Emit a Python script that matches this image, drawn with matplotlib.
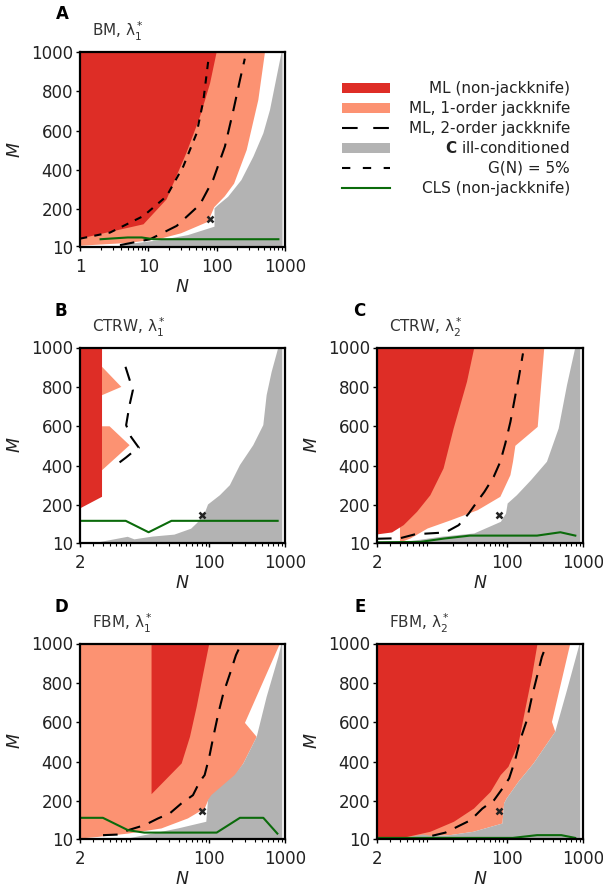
import numpy as np
import matplotlib
matplotlib.use("Agg")
import matplotlib.pyplot as plt
from matplotlib.ticker import NullFormatter
from matplotlib.patches import Rectangle

# ---------------- colours ----------------
RED = "#de2d26"
SALMON = "#fc9272"
GRAY = "#b3b3b3"
GREEN = "#0b6b0b"

# ---------------- common values ----------------
M_MIN, M_MAX = 10, 1000
GRID_NMAX = 920
Y_TICKS = [10, 200, 400, 600, 800, 1000]
X_TICKS_A = [1, 10, 100, 1000]
X_TICKS_BE = [2, 100, 1000]
MARK_N, MARK_M = 80, 150

# ---------------- panel A : BM, lambda1 ----------------
A_red_N = [1, 100, 80, 57, 36, 18.5, 8.5, 1]
A_red_M = [1000, 1000, 840, 670, 486, 250, 123, 50]
A_sal_N = [1, 510, 407, 275, 180, 131, 92, 75, 30, 14, 5, 1]
A_sal_M = [1000, 1000, 756, 501, 330, 265, 210, 136, 77, 47, 28, 14]
A_gray_N = [893, 755, 603, 482, 344, 230, 147, 105, 93, 93, 38, 15.5, 4, 3.5]
A_gray_M = [1000, 874, 705, 586, 467, 348, 263, 221, 204, 111, 68, 43, 18, 10]
A_j2_N = [3.85, 10.6, 26, 57, 89, 132, 176, 219, 258]
A_j2_M = [17, 47, 115, 224, 351, 519, 705, 857, 966]
A_g_N = [1, 2.75, 8.45, 18.5, 32.5, 51, 64, 76]
A_g_M = [50, 81, 165, 266, 418, 587, 755, 966]
A_cls_N = [2, 5, 8, 12, 800]
A_cls_M = [47, 56, 56, 47, 47]

# ---------------- panel B : CTRW, lambda1 ----------------
B_red_N = [2, 3.9, 3.9, 2]
B_red_M = [1000, 1000, 242, 183]
B_sal1_N = [3.9, 7, 3.9]
B_sal1_M = [902, 800, 758]
B_sal2_N = [3.9, 4.9, 9, 3.9]
B_sal2_M = [600, 600, 504, 377]
B_gray_N = [817, 667, 573, 518, 382, 255, 188, 139, 97, 90, 70, 58, 35, 18, 10.4, 8.5, 3.4]
B_gray_M = [1000, 876, 758, 606, 504, 403, 301, 250, 203, 170, 110, 80, 50, 40, 26, 39, 10]
B_j2_N = [7.94, 9.24, 9.93, 8.97, 8.1, 9.4, 11.9, 9.93, 8.1, 5.68]
B_j2_M = [902, 822, 783, 707, 606, 546, 491, 470, 442, 397]
B_cls_N = [2, 8, 16, 32, 800]
B_cls_M = [120, 120, 62, 120, 120]

# ---------------- panel C : CTRW, lambda2 ----------------
C_red_N = [2, 37.7, 30.2, 20.2, 14.9, 10, 6.7, 4.47, 3.15, 2]
C_red_M = [1000, 1000, 826, 589, 386, 250, 166, 98, 61, 51]
C_sal_N = [2, 311, 255, 130, 121, 112, 82.6, 41.7, 18.6, 9.2, 5.47, 4, 4, 2]
C_sal_M = [1000, 1000, 597, 501, 420, 352, 242, 174, 123, 81, 30, 10, 120, 120]
C_gray_N = [793, 617, 480, 337, 208, 136, 103, 98, 84, 37.7, 13.8, 6.8, 4]
C_gray_M = [1000, 809, 589, 420, 326, 250, 208, 157, 115, 56, 39, 22, 10]
C_j2_N = [2, 4.04, 6.36, 15.7, 23.5, 31.8, 40.8, 51, 67.5, 82.5, 96, 112, 130, 143.6, 163.5]
C_j2_M = [29, 32, 52, 61, 98, 157, 216, 267, 343, 420, 513, 623, 758, 843, 970]
C_cls_N = [2, 7.4, 15, 33, 250, 505, 793]
C_cls_M = [11, 13, 30, 45, 45, 62, 45]

# ---------------- panel D : FBM, lambda1 ----------------
D_sal_N = [2, 859, 297, 424, 283, 189, 126, 97.7, 87.5, 52.8, 23.6, 8.6, 3.45, 2]
D_sal_M = [1000, 1000, 597, 526, 391, 289, 238, 205, 162, 112, 61, 35, 18, 10]
D_red_N = [17.5, 100.8, 84, 68.7, 56.1, 43.6, 17.5]
D_red_M = [1000, 1000, 848, 678, 526, 391, 235]
D_gray_N = [900, 817, 573, 424, 283, 217, 107, 96.8, 92, 39, 14.2, 8.6]
D_gray_M = [1000, 932, 729, 526, 391, 332, 230, 205, 95, 61, 27, 10]
D_j2_N = [4.02, 6.3, 8.57, 14.2, 21.3, 30.3, 43.2, 61.4, 75.2, 87.5, 100.8, 113.8, 132.5, 154, 189, 226, 261]
D_j2_M = [27, 30, 52, 78, 112, 137, 188, 230, 298, 332, 425, 526, 645, 746, 848, 941, 992]
D_cls_N = [2, 4, 8.6, 14, 126, 255, 518, 793]
D_cls_M = [115, 115, 52, 40, 40, 115, 115, 35]

# ---------------- panel E : FBM, lambda2 ----------------
E_sal_N = [2, 682, 392, 433, 225, 143, 100, 92.5, 88, 36.6, 18, 2]
E_sal_M = [1000, 1000, 602, 552, 391, 298, 213, 188, 86, 44, 27, 10]
E_red_N = [2, 254, 214, 174.6, 143, 105.5, 83.6, 61.8, 37.3, 20.4, 10, 4.96, 2]
E_red_M = [1000, 1000, 831, 662, 492, 374, 332, 247, 162, 95, 44, 18, 10]
E_gray_N = [905, 617, 433, 225, 143, 100, 92.5, 88, 36.6, 18, 10.9, 8.05, 4]
E_gray_M = [1000, 763, 552, 391, 298, 213, 188, 86, 44, 27, 22, 30, 10]
E_j2_N = [10.6, 15.8, 24.9, 33.7, 48, 68.4, 88, 107.6, 129, 150, 184, 214, 249, 289, 337]
E_j2_M = [24, 40, 78, 103, 162, 205, 264, 315, 408, 509, 611, 729, 831, 932, 1000]
E_cls_N = [2, 4, 120, 250, 520, 790]
E_cls_M = [13, 13, 13, 27, 27, 13]

# ---------------- legend ----------------
LEG_LABELS = ["ML (non-jackknife)", "ML, 1-order jackknife", "ML, 2-order jackknife",
              r"$\mathbf{C}$ ill-conditioned", "G(N) = 5%", "CLS (non-jackknife)"]

J2_DASH = (7, 4.5)
G_DASH = (3.5, 3.5)

W, H = 603, 892
fig = plt.figure(figsize=(W / 100, H / 100), dpi=100)


def rect(l, t, r, b):
    return [l / W, 1 - b / H, (r - l) / W, (b - t) / H]


def panel(box, xmin, xticks, sal, red, gray, j2, g, cls, title, letter, lpos):
    ax = fig.add_axes(rect(*box))
    for n, m in sal:
        ax.fill(n, m, color=SALMON, lw=0)
    for n, m in red:
        ax.fill(n, m, color=RED, lw=0)
    gn, gm = gray
    ax.fill(list(gn) + [GRID_NMAX, GRID_NMAX], list(gm) + [M_MIN, M_MAX], color=GRAY, lw=0)
    if j2 is not None:
        ax.plot(j2[0], j2[1], color="k", lw=1.5, dashes=J2_DASH)
    if g is not None:
        ax.plot(g[0], g[1], color="k", lw=1.5, dashes=G_DASH)
    ax.plot(cls[0], cls[1], color=GREEN, lw=1.5)
    ax.plot([MARK_N], [MARK_M], marker="x", color="#222222", ms=5, mew=1.8, ls="none")
    ax.set_xscale("log")
    ax.set_xlim(xmin, 1000)
    ax.set_ylim(M_MIN, M_MAX)
    ax.set_xticks(xticks)
    ax.set_xticklabels([str(t) for t in xticks])
    ax.xaxis.set_minor_formatter(NullFormatter())
    ax.set_yticks(Y_TICKS)
    ax.tick_params(which="major", direction="out", length=3, width=1, labelsize=12, pad=2,
                   colors="k", labelcolor="#222222")
    ax.tick_params(axis="x", which="major", pad=5)
    ax.tick_params(which="minor", direction="out", length=2, width=0.8)
    for s in ax.spines.values():
        s.set_linewidth(1.6)
    ax.set_xlabel("N", style="italic", fontsize=12.5, labelpad=2, color="#222222")
    ax.set_ylabel("M", style="italic", fontsize=12.5, labelpad=5, color="#222222")
    ax.text(0.058, 1.045, title, transform=ax.transAxes, ha="left", va="bottom",
            fontsize=11, color="#333333")
    fig.text(lpos[0] / W, 1 - lpos[1] / H, letter, ha="left", va="center",
             fontsize=12, fontweight="bold")
    return ax


panel((80, 52, 285, 246.5), 1, X_TICKS_A,
      [(A_sal_N, A_sal_M)], [(A_red_N, A_red_M)], (A_gray_N, A_gray_M),
      (A_j2_N, A_j2_M), (A_g_N, A_g_M), (A_cls_N, A_cls_M),
      r"BM, $\mathrm{\lambda}_1^*$", "A", (56, 14))
panel((80, 347.5, 285, 542.5), 2, X_TICKS_BE,
      [(B_sal1_N, B_sal1_M), (B_sal2_N, B_sal2_M)], [(B_red_N, B_red_M)], (B_gray_N, B_gray_M),
      (B_j2_N, B_j2_M), None, (B_cls_N, B_cls_M),
      r"CTRW, $\mathrm{\lambda}_1^*$", "B", (55, 311))
panel((377, 347.5, 583, 542.5), 2, X_TICKS_BE,
      [(C_sal_N, C_sal_M)], [(C_red_N, C_red_M)], (C_gray_N, C_gray_M),
      (C_j2_N, C_j2_M), None, (C_cls_N, C_cls_M),
      r"CTRW, $\mathrm{\lambda}_2^*$", "C", (353, 311))
panel((80, 643.5, 285, 838.5), 2, X_TICKS_BE,
      [(D_sal_N, D_sal_M)], [(D_red_N, D_red_M)], (D_gray_N, D_gray_M),
      (D_j2_N, D_j2_M), None, (D_cls_N, D_cls_M),
      r"FBM, $\mathrm{\lambda}_1^*$", "D", (55, 607))
panel((377, 643.5, 583, 838.5), 2, X_TICKS_BE,
      [(E_sal_N, E_sal_M)], [(E_red_N, E_red_M)], (E_gray_N, E_gray_M),
      (E_j2_N, E_j2_M), None, (E_cls_N, E_cls_M),
      r"FBM, $\mathrm{\lambda}_2^*$", "E", (354, 607))

# legend drawn in a figure-wide pixel axes
lg = fig.add_axes([0, 0, 1, 1])
lg.set_xlim(0, W)
lg.set_ylim(H, 0)
lg.axis("off")
rows = [88, 108, 128, 148, 168, 188]
x0, x1, xt = 342, 390, 570
lg.add_patch(Rectangle((x0, rows[0] - 5), x1 - x0, 10, color=RED, lw=0))
lg.add_patch(Rectangle((x0, rows[1] - 5), x1 - x0, 10, color=SALMON, lw=0))
lg.plot([x0, x1], [rows[2]] * 2, color="k", lw=1.5, dashes=(7.5, 7.5))
lg.add_patch(Rectangle((x0, rows[3] - 5), x1 - x0, 10, color=GRAY, lw=0))
lg.plot([x0, x1], [rows[4]] * 2, color="k", lw=1.5, dashes=(4, 6))
lg.plot([x0, x1], [rows[5]] * 2, color=GREEN, lw=1.5)
for y, lab in zip(rows, LEG_LABELS):
    lg.text(xt, y, lab, ha="right", va="center", fontsize=11, color="#222222")

fig.savefig("out.png", dpi=100)
